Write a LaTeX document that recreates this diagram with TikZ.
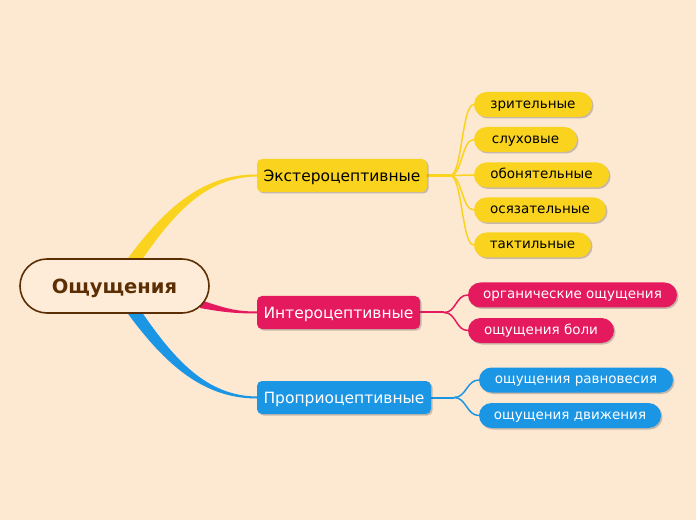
\documentclass[tikz,border=0pt]{standalone}
\usepackage{fontspec}
\setmainfont{DejaVu Sans}
\usetikzlibrary{shadows,backgrounds}

\definecolor{bgc}{RGB}{253,232,210}
\definecolor{rootc}{RGB}{254,236,216}
\definecolor{brownc}{RGB}{92,46,4}
\definecolor{yelc}{RGB}{250,211,30}
\definecolor{redc}{RGB}{229,25,94}
\definecolor{bluc}{RGB}{27,150,229}

\begin{document}
\begin{tikzpicture}[x=1pt,y=1pt,
  rootbox/.style={draw=brownc,line width=1.6pt,fill=rootc,rounded corners=27pt,
    minimum width=189pt,minimum height=54pt,text=brownc,text height=14.2pt,text depth=0pt,
    font=\fontsize{19.5}{22}\selectfont\bfseries},
  mainbox/.style={rounded corners=5pt,minimum height=33pt,inner sep=0pt,
    text height=11.3pt,text depth=0pt,
    font=\fontsize{15.5}{18}\selectfont,
    drop shadow={shadow xshift=1.5pt,shadow yshift=-1.5pt,opacity=0.3,fill=black!70}},
  leafbox/.style={rounded corners=12.5pt,minimum height=25pt,inner sep=0pt,
    text height=7.6pt,text depth=0pt,
    font=\fontsize{13.5}{16}\selectfont,
    drop shadow={shadow xshift=1.5pt,shadow yshift=-1.5pt,opacity=0.3,fill=black!70}},
  ylink/.style={draw=yelc,line width=1.5pt},
  rlink/.style={draw=redc,line width=1.5pt},
  blink/.style={draw=bluc,line width=1.5pt}]
\useasboundingbox (0,0) rectangle (696,520);

% root and main branches
\node[rootbox] (root) at (114.5,234) {Ощущения};
\node[mainbox,fill=yelc,text=black,minimum width=170pt] (ext) at (342,344.5) {Экстероцептивные};
\node[mainbox,fill=redc,text=white,minimum width=163pt] (int) at (338.5,207.5) {Интероцептивные};
\node[mainbox,fill=bluc,text=white,minimum width=174pt] (prop) at (344,122.5) {Проприоцептивные};

% leaves
\node[leafbox,fill=yelc,text=black,minimum width=118pt] (vis) at (533,415.5) {зрительные};
\node[leafbox,fill=yelc,text=black,minimum width=103pt] (aud) at (525.5,380.5) {слуховые};
\node[leafbox,fill=yelc,text=black,minimum width=135pt] (olf) at (541.5,345) {обонятельные};
\node[leafbox,fill=yelc,text=black,minimum width=132pt] (tou) at (540,310) {осязательные};
\node[leafbox,fill=yelc,text=black,minimum width=117pt] (tac) at (532.5,275) {тактильные};
\node[leafbox,fill=redc,text=white,minimum width=209pt] (org) at (572.5,225) {органические ощущения};
\node[leafbox,fill=redc,text=white,minimum width=146pt] (pain) at (541,189.5) {ощущения боли};
\node[leafbox,fill=bluc,text=white,minimum width=194pt] (bal) at (576,140) {ощущения равновесия};
\node[leafbox,fill=bluc,text=white,minimum width=182pt] (mov) at (570,104.5) {ощущения движения};

\begin{pgfonlayer}{background}
\fill[bgc] (0,0) rectangle (696,520);
% tapered links from the root
\fill[yelc] ([xshift=13.5pt]root.north) .. controls (165,312) and (203,346) .. ([yshift=1pt]ext.west)
  -- ([yshift=-1pt]ext.west) .. controls (207,343) and (175,308) .. ([xshift=28.5pt]root.north) -- cycle;
\fill[redc] (200,220) .. controls (225,212) and (235,208.5) .. ([yshift=1pt]int.west)
  -- ([yshift=-1pt]int.west) .. controls (235,206.5) and (222,208) .. (200,212) -- cycle;
\fill[bluc] ([xshift=13.5pt]root.south) .. controls (165,156) and (203,121.5) .. ([yshift=-1pt]prop.west)
  -- ([yshift=1pt]prop.west) .. controls (207,124) and (175,160) .. ([xshift=28.5pt]root.south) -- cycle;

% links to the leaves
\draw[ylink,line width=2.5pt] (ext.east) -- ++(23,0) coordinate (ej);
\foreach \n in {vis,aud,olf,tou,tac}
  \draw[ylink] (ej) .. controls +(12,0) and +(-12,0) .. (\n.west);
\draw[rlink,line width=2pt] (int.east) -- ++(24,0) coordinate (ij);
\foreach \n in {org,pain}
  \draw[rlink] (ij) .. controls +(12,0) and +(-12,0) .. (\n.west);
\draw[blink,line width=2pt] (prop.east) -- ++(23,0) coordinate (pj);
\foreach \n in {bal,mov}
  \draw[blink] (pj) .. controls +(12,0) and +(-12,0) .. (\n.west);
\end{pgfonlayer}
\end{tikzpicture}
\end{document}
